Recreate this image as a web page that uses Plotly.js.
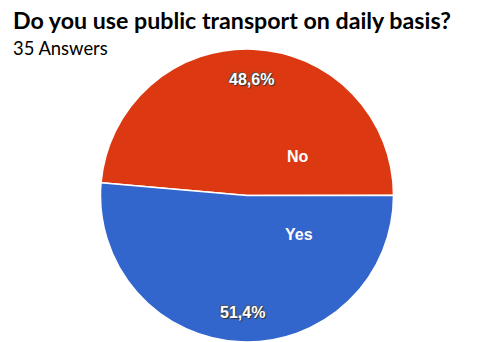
<!DOCTYPE html>
<html>
<head>
<meta charset="utf-8">
<script src="https://cdn.plot.ly/plotly-3.0.1.min.js"></script>
<style>html,body{margin:0;padding:0;background:#fff;}#chart{width:485px;height:342px;}</style>
</head>
<body>
<div id="chart"></div>
<script>
const titleText = "Do you use public transport on daily basis?";
const subtitleText = "35 Answers";
const labels = ["No", "Yes"];
const values = [17, 18];
const colors = ["#DC3912", "#3366CC"];

const W = 485, H = 342;
const cx = 247, cy = 196, R = 147;
const startBearing = 275;

const total = values.reduce((a, b) => a + b, 0);
const pct = values.map(v => (v / total * 100).toFixed(1).replace('.', ',') + '%');

const annotations = [
  {text: '<b>' + titleText + '</b>', x: 11 / W, y: 1 - 20 / H, xref: 'paper', yref: 'paper',
   xanchor: 'left', yanchor: 'middle', showarrow: false,
   font: {family: 'Lato, "Open Sans", sans-serif', size: 23.2, color: '#000'}},
  {text: subtitleText, x: 11 / W, y: 1 - 48 / H, xref: 'paper', yref: 'paper',
   xanchor: 'left', yanchor: 'middle', showarrow: false,
   font: {family: 'Lato, "Open Sans", sans-serif', size: 18.4, color: '#000'}}
];

// label offsets relative to slice mid-angle
const nameOffsets = [50, -55.5];
let acc = startBearing;
values.forEach((v, i) => {
  const span = v / total * 360;
  const mid = acc + span / 2;
  acc += span;
  const place = (bearing, r) => {
    const a = bearing * Math.PI / 180;
    return {x: (cx + r * Math.sin(a)) / W, y: 1 - (cy - r * Math.cos(a)) / H};
  };
  const p = place(mid, 0.79 * R);
  annotations.push({text: '<b>' + pct[i] + '</b>', x: p.x, y: p.y, xref: 'paper', yref: 'paper',
    showarrow: false, xanchor: 'center', yanchor: 'middle',
    font: {family: '"Liberation Sans", Arial, sans-serif', size: 16, color: '#fff',
           shadow: '1px 1px 1px #333, -1px -1px 1px #555'}});
  const q = place(mid + nameOffsets[i], 0.44 * R);
  annotations.push({text: '<b>' + labels[i] + '</b>', x: q.x, y: q.y, xref: 'paper', yref: 'paper',
    showarrow: false, xanchor: 'center', yanchor: 'middle',
    font: {family: '"Liberation Sans", Arial, sans-serif', size: 16, color: '#fff'}});
});

const trace = {
  type: 'pie',
  labels: labels,
  values: values,
  sort: false,
  direction: 'clockwise',
  rotation: startBearing - 360,
  textinfo: 'none',
  hoverinfo: 'label+percent',
  marker: {colors: colors, line: {color: '#fff', width: 1.5}},
  domain: {x: [(cx - R) / W, (cx + R) / W], y: [1 - (cy + R) / H, 1 - (cy - R) / H]},
  showlegend: false
};

Plotly.newPlot('chart', [trace], {
  width: W, height: H,
  margin: {l: 0, r: 0, t: 0, b: 0},
  paper_bgcolor: '#fff',
  showlegend: false,
  annotations: annotations
}, {staticPlot: true, displayModeBar: false});
</script>
</body>
</html>
